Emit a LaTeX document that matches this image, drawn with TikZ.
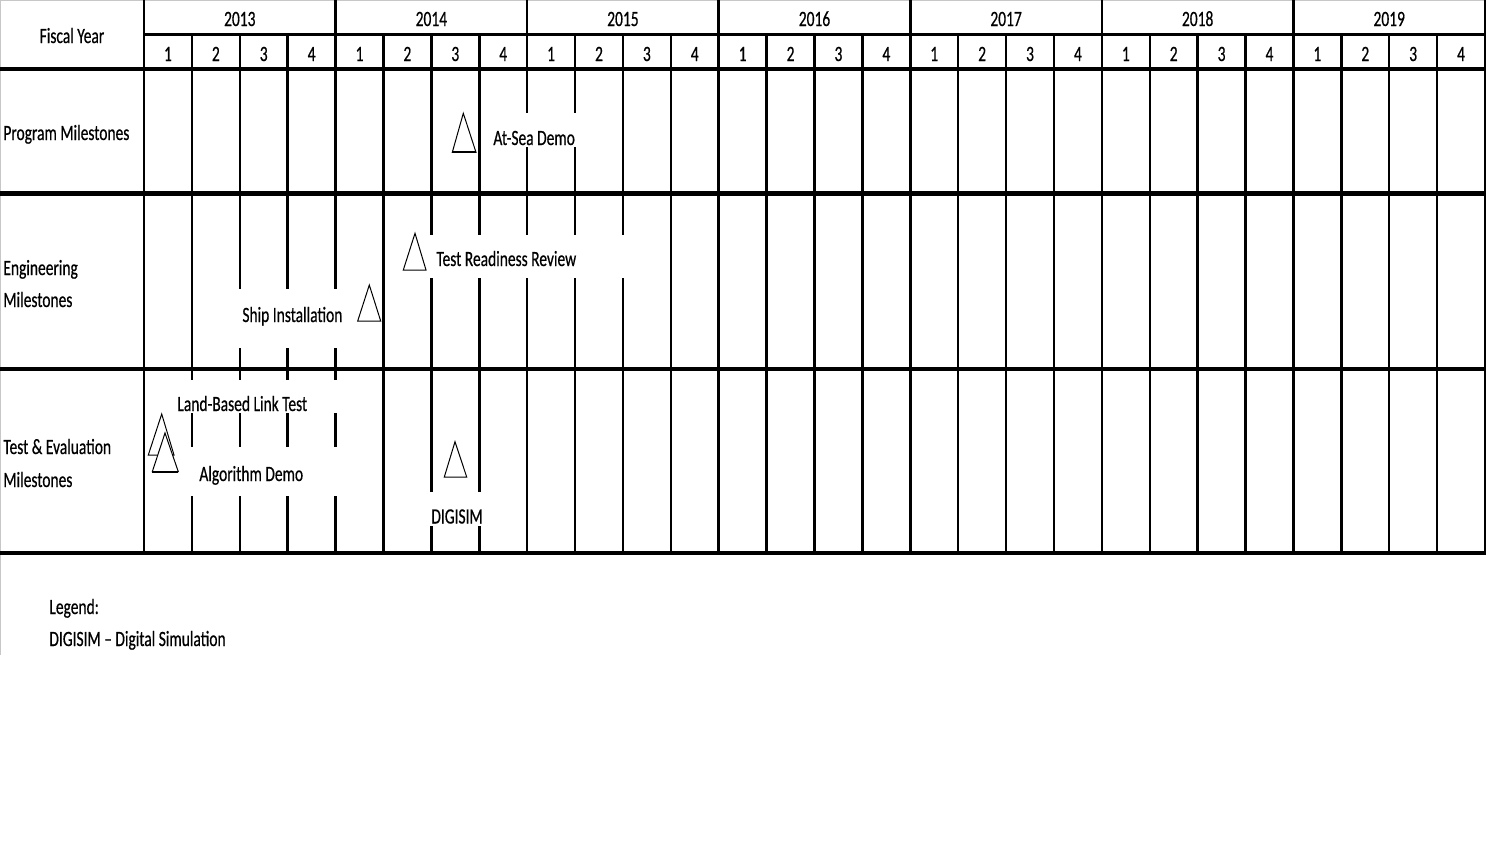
\documentclass[tikz,border=0pt]{standalone}
\usepackage{fontspec}
\setmainfont{Carlito}[FakeStretch=0.71,FakeBold=0.5]
\begin{document}
\begin{tikzpicture}[x=0.5pt,y=-0.5pt,
  txt/.style={inner sep=0pt, font=\fontsize{10.9}{13}\selectfont},
  lbl/.style={txt, anchor=base west},
  hd/.style={txt, anchor=base},
  thickrule/.style={line width=2.2pt},
  vrule/.style={line width=1.25pt},
  hrule/.style={line width=1.5pt},
  faint/.style={black!22, line width=0.6pt},
  tri/.style={draw=black, fill=white, line width=0.5pt, line join=miter},
  trbase/.style={line width=1.1pt},
  gap/.style={fill=white}]
\useasboundingbox (0,0) rectangle (1497,842);
\fill[white] (0,0) rectangle (1497,842);
% faint outer border
\draw[faint] (0,0.5) -- (1485,0.5);
\draw[faint] (0.5,0) -- (0.5,655);
% quarter lines
\foreach \q in {1,...,27} \draw[vrule] ({144+\q*47.893},35) -- ({144+\q*47.893},553);
% year lines
\foreach \k in {0,...,7} \draw[vrule] ({144+\k*191.57},0) -- ({144+\k*191.57},553);
% horizontal rules
\draw[hrule] (144,34.5) -- (1486,34.5);
\foreach \y in {69,193.5,369,553} \draw[thickrule] (0,\y) -- (1486,\y);
% header texts
\node[hd] (fy) at (72,43) {Fiscal Year};
\foreach \yr [count=\i from 0] in {2013,2014,2015,2016,2017,2018,2019} {
  \node[hd] (y\yr) at ({144+(\i+0.5)*191.57},26) {\yr};
  \foreach \qq in {1,...,4}
    \node[hd] (q\yr-\qq) at ({144+\i*191.57+(\qq-0.5)*47.893},61) {\qq};
}
% row labels
\node[lbl] (rp) at (3,140) {Program Milestones};
\node[lbl] (re1) at (3,275) {Engineering};
\node[lbl] (re2) at (3,307) {Milestones};
\node[lbl] (rt1) at (3,454) {Test \& Evaluation};
\node[lbl] (rt2) at (3,487) {Milestones};
% white gaps behind labels
\fill[gap] (485,113) rectangle (577,147);
\fill[gap] (428,235) rectangle (625,278);
\fill[gap] (222,289) rectangle (346,348);
\fill[gap] (170,380) rectangle (342,413);
\fill[gap] (185,447) rectangle (342,496);
\fill[gap] (429,492) rectangle (481,526);
% milestone triangles
\draw[tri] (452.3,152.3) -- (463.3,113.3) -- (476,152.3) -- cycle;
\draw[trbase] (452.3,152.3) -- (476,152.3);
\draw[tri] (403.3,270) -- (415,233.3) -- (426,270) -- cycle;
\draw[tri] (357.7,321) -- (369.3,285) -- (380.7,321) -- cycle;
\draw[tri] (148.3,455) -- (161.7,414) -- (174,455) -- cycle;
\draw[tri] (152.3,471.7) -- (165,433) -- (178.3,471.7) -- cycle;
\draw[trbase] (152.3,471.7) -- (178.3,471.7);
\draw[tri] (444.3,477) -- (455,441.7) -- (466.7,477) -- cycle;
% milestone labels
\node[lbl] (m1) at (493,145) {At-Sea Demo};
\node[lbl] (m2) at (436,266) {Test Readiness Review};
\node[lbl] (m3) at (242,322) {Ship Installation};
\node[lbl] (m4) at (177,411) {Land-Based Link Test};
\node[lbl] (m5) at (199,481) {Algorithm Demo};
\node[lbl] (m6) at (431,523.5) {DIGISIM};
% legend
\node[lbl] (lg1) at (49,614) {Legend:};
\node[lbl] (lg2) at (49,646) {DIGISIM – Digital Simulation};
\end{tikzpicture}
\end{document}
